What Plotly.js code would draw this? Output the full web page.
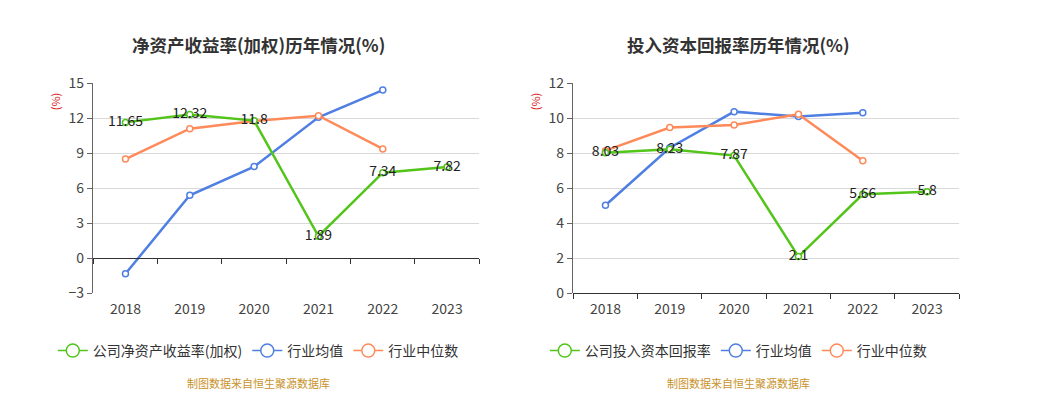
<!DOCTYPE html>
<html>
<head>
<meta charset="utf-8">
<script src="https://cdn.plot.ly/plotly-3.0.1.min.js"></script>
<style>html,body{margin:0;padding:0;background:#fff;}#chart{width:1040px;height:407px;}</style>
</head>
<body>
<div id="chart"></div>
<script>
// ---- data ----
var years = ['2018', '2019', '2020', '2021', '2022', '2023'];

var roeTitle = '净资产收益率(加权)历年情况(%)';
var roeCompanyName = '公司净资产收益率(加权)';
var roeCompany = [11.65, 12.32, 11.8, 1.89, 7.34, 7.82];
var roeIndustryMean = [-1.32, 5.4, 7.86, 12.08, 14.42, null];
var roeIndustryMedian = [8.51, 11.11, 11.77, 12.22, 9.37, null];
var roeTicks = [-3, 0, 3, 6, 9, 12, 15];

var roicTitle = '投入资本回报率历年情况(%)';
var roicCompanyName = '公司投入资本回报率';
var roicCompany = [8.03, 8.23, 7.87, 2.1, 5.66, 5.8];
var roicIndustryMean = [5.03, 8.32, 10.38, 10.1, 10.32, null];
var roicIndustryMedian = [8.15, 9.47, 9.62, 10.23, 7.58, null];
var roicTicks = [0, 2, 4, 6, 8, 10, 12];

var meanName = '行业均值';
var medianName = '行业中位数';
var unitLabel = '(%)';
var sourceText = '制图数据来自恒生聚源数据库';

// ---- style ----
var W = 1040, H = 407;
var GREEN = '#52c41a', BLUE = '#4f7fe3', ORANGE = '#fe8a5a';
var FONT = '"Noto Sans CJK SC", "Noto Sans", sans-serif';

function px2fx(p) { return p / W; }
function px2fy(p) { return (H - p) / H; }

var yTop = px2fy(83.3), yBot = px2fy(293.3);
var panels = [
  {x0: 93.3, x1: 479.3, title: roeTitle, compName: roeCompanyName, comp: roeCompany, mean: roeIndustryMean, med: roeIndustryMedian, ticks: roeTicks},
  {x0: 573.3, x1: 959.3, title: roicTitle, compName: roicCompanyName, comp: roicCompany, mean: roicIndustryMean, med: roicIndustryMedian, ticks: roicTicks}
];

var data = [];
var layout = {
  width: W, height: H,
  margin: {l: 0, r: 0, t: 0, b: 0},
  paper_bgcolor: '#fff', plot_bgcolor: '#fff',
  font: {family: FONT, color: '#333'},
  showlegend: true,
  hovermode: false,
  annotations: []
};

var n = years.length;
var boundaries = [];
for (var i = 0; i <= n; i++) boundaries.push(i - 0.5);

panels.forEach(function (p, k) {
  var xa = k === 0 ? 'x' : 'x3';
  var ya = k === 0 ? 'y' : 'y2';
  var xb = k === 0 ? 'x2' : 'x4';
  var xaKey = k === 0 ? 'xaxis' : 'xaxis3';
  var yaKey = k === 0 ? 'yaxis' : 'yaxis2';
  var xbKey = k === 0 ? 'xaxis2' : 'xaxis4';
  var lg = k === 0 ? 'legend' : 'legend2';
  var ymin = p.ticks[0], ymax = p.ticks[p.ticks.length - 1];
  var dom = [px2fx(p.x0), px2fx(p.x1)];

  layout[xaKey] = {
    domain: dom, anchor: ya, type: 'category', categoryarray: years,
    range: [-0.5, n - 0.5], showline: false, showgrid: false, zeroline: false,
    ticks: 'outside', ticklen: 3, tickcolor: 'rgba(0,0,0,0)',
    tickfont: {size: 14, color: '#444', family: FONT}, fixedrange: true
  };
  layout[yaKey] = {
    domain: [yBot, yTop], anchor: xa, range: [ymin, ymax], tickvals: p.ticks,
    showline: true, linecolor: '#666', linewidth: 1.5, ticks: 'outside', ticklen: 5, tickcolor: '#666',
    showgrid: true, gridcolor: '#d9d9d9', gridwidth: 1, zeroline: false,
    tickfont: {size: 14, color: '#444', family: FONT}, fixedrange: true
  };
  var zeroPos = yBot + (0 - ymin) / (ymax - ymin) * (yTop - yBot);
  layout[xbKey] = {
    domain: dom, overlaying: xa, anchor: 'free', position: zeroPos,
    range: [-0.5, n - 0.5], tickvals: boundaries, showticklabels: false,
    ticks: 'outside', ticklen: 5, tickcolor: '#333', showline: true, linecolor: '#333', linewidth: 1,
    showgrid: false, zeroline: false, fixedrange: true
  };

  var series = [
    {name: p.compName, y: p.comp, color: GREEN, text: true},
    {name: meanName, y: p.mean, color: BLUE},
    {name: medianName, y: p.med, color: ORANGE}
  ];
  // legend entries (thin line, large hollow circle)
  series.forEach(function (s) {
    data.push({
      type: 'scatter', x: [null], y: [null], xaxis: xa, yaxis: ya, name: s.name,
      mode: 'lines+markers', legend: lg, showlegend: true,
      line: {color: s.color, width: 1.5},
      marker: {symbol: 'circle', size: 13, color: '#fff', line: {color: s.color, width: 1.5}}
    });
  });
  // plotted series: company drawn last so labels sit on top
  [series[1], series[2], series[0]].forEach(function (s) {
    var tr = {
      type: 'scatter', x: years, y: s.y, xaxis: xa, yaxis: ya, name: s.name,
      mode: s.text ? 'lines+markers+text' : 'lines+markers',
      line: {color: s.color, width: 2.5},
      marker: {symbol: 'circle', size: 6, color: '#fff', line: {color: s.color, width: 1.5}},
      showlegend: false, cliponaxis: false
    };
    if (s.text) {
      tr.text = s.y.map(function (v) { return v == null ? '' : String(v); });
      tr.textposition = 'middle center';
      tr.textfont = {size: 14, color: '#222', family: FONT};
    }
    data.push(tr);
  });
  data.push({type: 'scatter', x: [0], y: [null], xaxis: xb, yaxis: ya, showlegend: false, mode: 'markers', hoverinfo: 'skip'});

  var cx = px2fx((p.x0 + p.x1) / 2 - 28);
  layout[lg] = {
    orientation: 'h', x: cx, xanchor: 'center', y: px2fy(351), yanchor: 'middle',
    font: {size: 14, color: '#333', family: FONT},
    traceorder: 'normal', itemclick: false, itemdoubleclick: false, bgcolor: 'rgba(0,0,0,0)'
  };

  layout.annotations.push({
    text: '<b>' + p.title + '</b>', xref: 'paper', yref: 'paper',
    x: px2fx((p.x0 + p.x1) / 2 - 28), y: px2fy(44), xanchor: 'center', yanchor: 'middle',
    showarrow: false, font: {size: 17.5, color: '#333', family: FONT}
  });
  layout.annotations.push({
    text: unitLabel, xref: 'paper', yref: 'paper', x: px2fx(p.x0 - 38), y: px2fy(101),
    xanchor: 'center', yanchor: 'middle', textangle: -90, showarrow: false,
    font: {size: 11, color: '#e02020', family: FONT}
  });
  layout.annotations.push({
    text: sourceText, xref: 'paper', yref: 'paper', x: px2fx((p.x0 + p.x1) / 2 - 28), y: px2fy(383),
    xanchor: 'center', yanchor: 'middle', showarrow: false,
    font: {size: 11, color: '#c8922a', family: FONT}
  });
});

Plotly.newPlot('chart', data, layout, {displayModeBar: false, staticPlot: true});
</script>
</body>
</html>
